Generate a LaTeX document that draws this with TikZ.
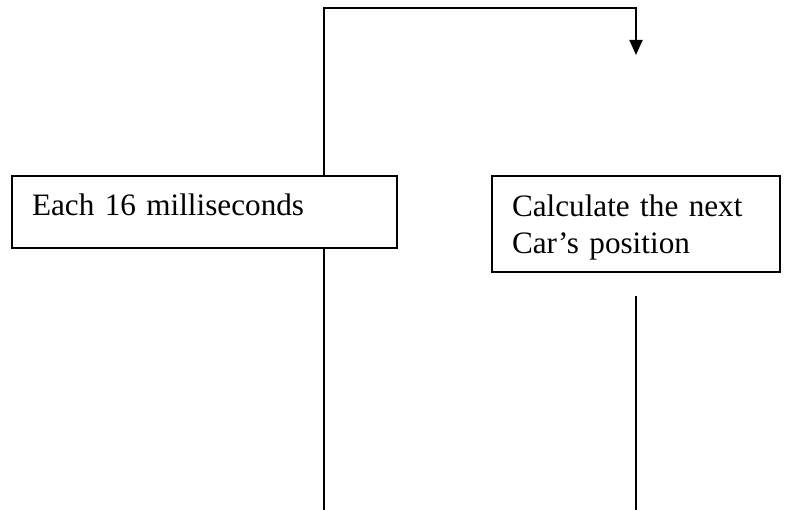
\documentclass[tikz,border=0pt]{standalone}
\usepackage{fontspec}
\setmainfont{Liberation Serif}
\usetikzlibrary{arrows.meta}
% struts that fix the first baseline and the bottom padding of a box
\newcommand{\topstrut}{\rule{0pt}{28pt}}
\newcommand{\fullstrut}{\rule[-20pt]{0pt}{48pt}}
\begin{document}
\begin{tikzpicture}[x=1pt,y=-1pt,
  flowline/.style={line width=1.8pt},
  textbox/.style={draw, line width=1.8pt, rectangle, anchor=north west,
    align=left, inner xsep=20pt, inner ysep=12pt, outer sep=0pt,
    font=\fontsize{31.2}{37}\selectfont},
]
\useasboundingbox (0,0) rectangle (788,510);
% the two process boxes
\node[textbox, text width=345pt, minimum height=72pt] (each) at (12,176) {\fullstrut Each 16 milliseconds};
\node[textbox, text width=248pt, minimum height=96pt] (calc) at (492,176) {\topstrut Calculate the next\\Car’s position};
% loop from the timer box over the top to the calculation step
\coordinate (loopL) at (324,8);
\coordinate (loopR) at (636,8);
\coordinate (tip) at (636,55);
\draw[flowline, -{Triangle[length=15pt,width=13pt]}] (each.north -| loopL) -- (loopL) -- (loopR) -- (tip);
% lines running off the bottom
\coordinate (lowL) at (324,510);
\draw[flowline] (each.south -| lowL) -- (lowL);
\coordinate (lowRtop) at (636,296);
\coordinate (lowRbot) at (636,510);
\draw[flowline] (lowRtop) -- (lowRbot);
\end{tikzpicture}
\end{document}
